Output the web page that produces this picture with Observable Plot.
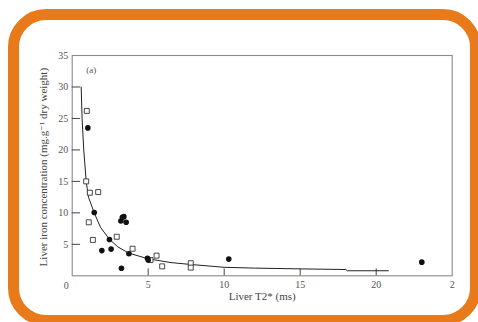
<!DOCTYPE html>
<html>
<head>
<meta charset="utf-8">
<script src="https://cdn.jsdelivr.net/npm/d3@7"></script>
<script src="https://cdn.jsdelivr.net/npm/@observablehq/plot@0.6"></script>
<style>
  html, body { margin: 0; padding: 0; width: 478px; height: 322px; overflow: hidden; background: #fff; }
  #frame { position: absolute; left: 8px; top: 9px; width: 473px; height: 317px; box-sizing: border-box;
           border: 11px solid #e97a1b; border-radius: 38px; background: #fff; }
  #chart { position: absolute; left: 0; top: 0; }
</style>
</head>
<body>
<div id="frame"></div>
<div id="chart"></div>
<script>
// Open squares (T2*, iron)
const squareX = [0.96, 0.92, 1.16, 1.71, 1.09, 1.36, 2.93, 3.97, 5.15, 5.55, 5.92, 7.8, 7.8];
const squareY = [26.2, 15.0, 13.2, 13.3, 8.5, 5.7, 6.2, 4.3, 2.5, 3.2, 1.5, 2.0, 1.3];
// Filled circles
const circleX = [1.03, 1.45, 2.45, 1.95, 2.56, 3.2, 3.3, 3.4, 3.55, 3.73, 3.24, 4.95, 5.0, 10.3, 23.0];
const circleY = [23.5, 10.06, 5.77, 4.0, 4.24, 8.7, 9.3, 9.4, 8.5, 3.5, 1.2, 2.8, 2.5, 2.65, 2.17];
// Fitted curve
const curveX = [0.59, 0.65, 0.76, 0.92, 1.07, 1.45, 1.86, 2.45, 3.0, 3.73, 5.0, 6.5, 7.8, 10.0, 12.0, 15.0, 18.0, 18.1, 20.8];
const curveY = [30, 25, 20, 15, 12.5, 10, 7.7, 5.8, 4.6, 3.6, 2.7, 2.1, 1.8, 1.35, 1.22, 1.1, 1.0, 0.8, 0.8];
// Ticks
const xTicks = [5, 10, 15, 20, 25];
const xTickLabels = ["5", "10", "15", "20", "2"];
const yTicks = [5, 10, 15, 20, 25, 30, 35];
const yTickLabels = ["5", "10", "15", "20", "25", "30", "35"];
const xTitle = "Liver T2* (ms)";
const yTitle = "Liver iron concentration (mg.g⁻¹ dry weight)";
const panelLabel = "(a)";

const squares = squareX.map((x, i) => ({x, y: squareY[i]}));
const circles = circleX.map((x, i) => ({x, y: circleY[i]}));
const curve = curveX.map((x, i) => ({x, y: curveY[i]}));
const xLab = new Map(xTicks.map((t, i) => [t, xTickLabels[i]]));
const yLab = new Map(yTicks.map((t, i) => [t, yTickLabels[i]]));

const font = "'Liberation Serif', 'DejaVu Serif', serif";

const chart = Plot.plot({
  width: 478,
  height: 322,
  marginLeft: 71.7,
  marginRight: 26.3,
  marginTop: 55,
  marginBottom: 46.7,
  style: {background: "transparent", fontFamily: font, fontSize: "10px", color: "#555", overflow: "visible"},
  x: {domain: [0, 25]},
  y: {domain: [0, 35]},
  marks: [
    Plot.frame({stroke: "#8a8a8a", strokeWidth: 1.1}),
    Plot.ruleY(yTicks.filter(t => t < 35), {x1: 0, x2: 0.55, stroke: "#444", strokeWidth: 1}),
    Plot.ruleX(xTicks.filter(t => t < 25), {y1: 0, y2: 1.1, stroke: "#444", strokeWidth: 1}),
    Plot.axisX(xTicks, {tickSize: 0, tickPadding: 5, tickFormat: d => xLab.get(d), label: null, fill: "#555", fontSize: 10}),
    Plot.text(["0"], {x: 0, y: 0, dx: -6, dy: 9.5, fill: "#555", fontSize: 10}),
    Plot.axisY(yTicks, {tickSize: 0, tickPadding: 4, tickFormat: d => yLab.get(d), label: null, fill: "#555", fontSize: 10}),
    Plot.line(curve, {x: "x", y: "y", stroke: "#222", strokeWidth: 1}),
    Plot.dot(squares, {x: "x", y: "y", symbol: "square", r: 2.8, stroke: "#333", strokeWidth: 0.9, fill: "white"}),
    Plot.dot(circles, {x: "x", y: "y", symbol: "circle", r: 2.8, fill: "#111", stroke: "none"}),
    Plot.text([panelLabel], {frameAnchor: "top-left", dx: 14, dy: 11.5, fill: "#555", fontSize: 9}),
    Plot.text([xTitle], {frameAnchor: "bottom", dy: 24, fill: "#444", fontSize: 11}),
    Plot.text([yTitle], {frameAnchor: "left", textAnchor: "middle", rotate: -90, dx: -29, dy: 1.5, fill: "#444", fontSize: 11})
  ]
});
document.getElementById("chart").appendChild(chart);
</script>
</body>
</html>
